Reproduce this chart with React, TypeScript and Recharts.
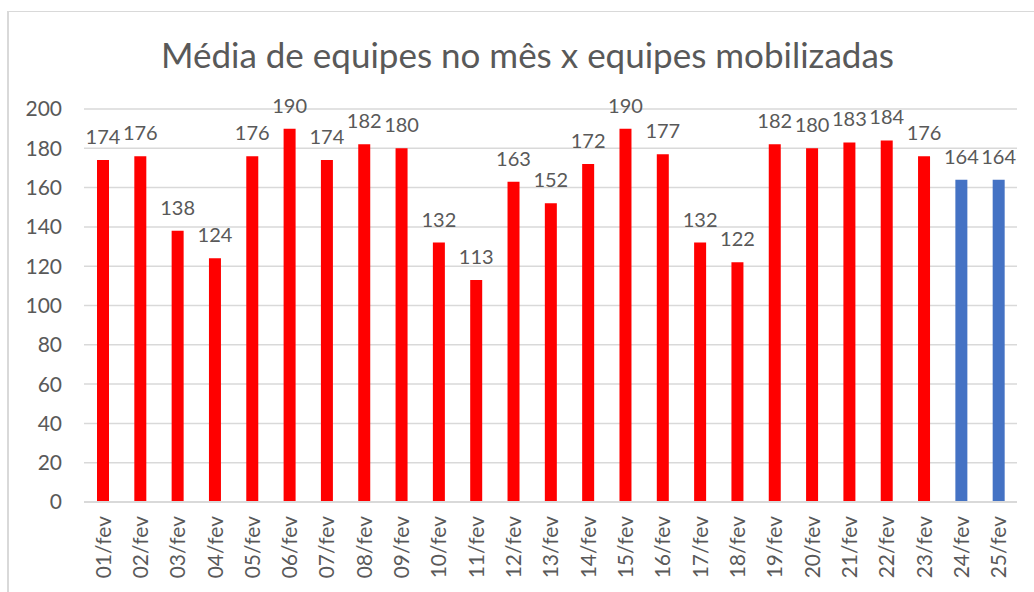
import React from 'react';
import { BarChart, Bar, XAxis, YAxis, CartesianGrid, LabelList, Cell } from 'recharts';

const days = [
  '01/fev', '02/fev', '03/fev', '04/fev', '05/fev', '06/fev', '07/fev', '08/fev', '09/fev',
  '10/fev', '11/fev', '12/fev', '13/fev', '14/fev', '15/fev', '16/fev', '17/fev', '18/fev',
  '19/fev', '20/fev', '21/fev', '22/fev', '23/fev', '24/fev', '25/fev',
];
const teams = [
  174, 176, 138, 124, 176, 190, 174, 182, 180,
  132, 113, 163, 152, 172, 190, 177, 132, 122,
  182, 180, 183, 184, 176, 164, 164,
];
// last two days are the month average (blue)
const averageDays = ['24/fev', '25/fev'];
const yTicks = [0, 20, 40, 60, 80, 100, 120, 140, 160, 180, 200];

const data = days.map((d, i) => ({ day: d, value: teams[i] }));

const FONT = 'Lato, "Open Sans", sans-serif';
const TEXT = '#595959';

const App: React.FC = () => {
  return (
    <div style={{ position: 'absolute', left: 0, top: 0, width: 1034, height: 592, overflow: 'hidden', background: '#fff', fontFamily: FONT }}>
      <div style={{ position: 'absolute', left: 7, top: 11, width: 1100, height: 700, border: '1px solid #d9d9d9', borderLeftWidth: 2 }} />
      <div style={{ position: 'absolute', left: 0, width: 1055, top: 32, textAlign: 'center', fontSize: 35, color: TEXT, lineHeight: '44px' }}>
        Média de equipes no mês x equipes mobilizadas
      </div>
      <BarChart
        width={1034}
        height={592}
        data={data}
        margin={{ top: 109, right: 17, bottom: 0, left: 0 }}
        barCategoryGap={0}
        style={{ position: 'absolute', left: 0, top: 0 }}
      >
        <CartesianGrid vertical={false} stroke="#d9d9d9" strokeWidth={1.5} />
        <XAxis
          dataKey="day"
          height={90}
          interval={0}
          axisLine={{ stroke: '#d9d9d9', strokeWidth: 2 }}
          tickLine={false}
          tickSize={0}
          tickMargin={14}
          angle={-90}
          textAnchor="end"
          tick={{ fill: TEXT, fontSize: 21, fontFamily: FONT, dx: -7 } as any}
        />
        <YAxis
          width={84}
          domain={[0, 200]}
          ticks={yTicks}
          axisLine={false}
          tickLine={false}
          tickSize={0}
          tickMargin={22}
          tick={{ fill: TEXT, fontSize: 21, fontFamily: FONT }}
        />
        <Bar dataKey="value" barSize={12} isAnimationActive={false}>
          {data.map((d) => (
            <Cell key={d.day} fill={averageDays.includes(d.day) ? '#4472c4' : '#ff0000'} />
          ))}
          <LabelList dataKey="value" position="top" offset={16} fill={TEXT} fontSize={20} fontFamily={FONT} />
        </Bar>
      </BarChart>
    </div>
  );
};

export default App;
